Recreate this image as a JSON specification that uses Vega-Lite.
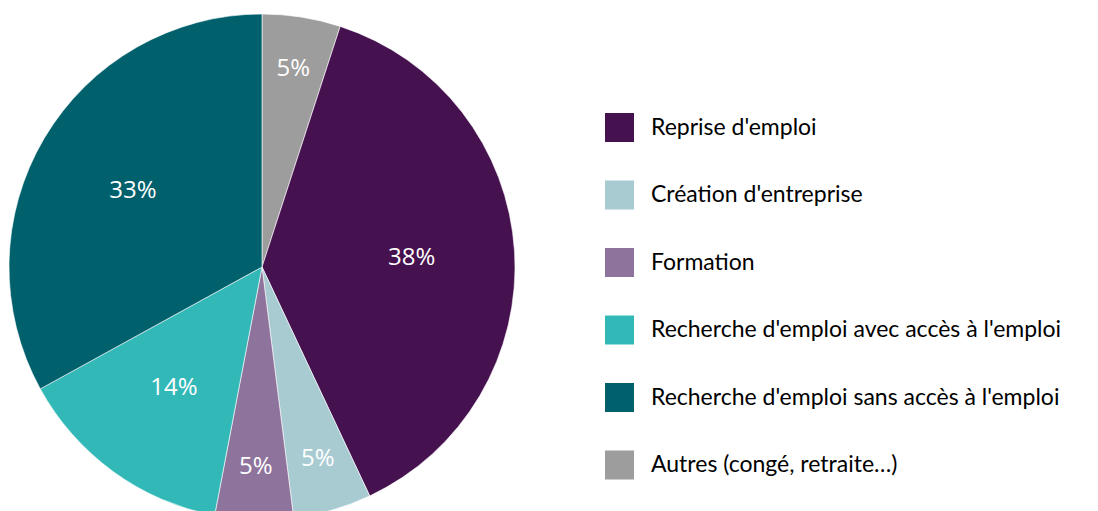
{
  "$schema": "https://vega.github.io/schema/vega-lite/v6.json",
  "autosize": "none",
  "padding": {"left": 0, "top": 0, "right": 574, "bottom": 0},
  "width": 524,
  "height": 534,
  "background": "white",
  "view": {"stroke": null},
  "data": {
    "values": [
      {"categorie": "Autres (congé, retraite…)", "ordre": 1, "part": 0.05},
      {"categorie": "Reprise d'emploi", "ordre": 2, "part": 0.38},
      {"categorie": "Création d'entreprise", "ordre": 3, "part": 0.05},
      {"categorie": "Formation", "ordre": 4, "part": 0.05},
      {"categorie": "Recherche d'emploi avec accès à l'emploi", "ordre": 5, "part": 0.14},
      {"categorie": "Recherche d'emploi sans accès à l'emploi", "ordre": 6, "part": 0.33}
    ]
  },
  "encoding": {
    "theta": {"field": "part", "type": "quantitative", "stack": true},
    "order": {"field": "ordre", "type": "quantitative"}
  },
  "layer": [
    {
      "mark": {"type": "arc", "outerRadius": 253, "stroke": "white", "strokeWidth": 0.6},
      "encoding": {
        "color": {
          "field": "categorie",
          "type": "nominal",
          "scale": {
            "domain": ["Reprise d'emploi", "Création d'entreprise", "Formation", "Recherche d'emploi avec accès à l'emploi", "Recherche d'emploi sans accès à l'emploi", "Autres (congé, retraite…)"],
            "range": ["#46114f", "#a8cbd2", "#8e739c", "#33b8b8", "#00606b", "#9d9d9d"]
          },
          "legend": {
            "title": null,
            "orient": "none",
            "legendX": 605,
            "legendY": 113,
            "symbolType": "square",
            "symbolSize": 841,
            "symbolStrokeWidth": 0,
            "symbolOpacity": 1,
            "labelFont": "Lato",
            "labelFontSize": 23,
            "labelColor": "#000000",
            "labelOffset": 17,
            "labelLimit": 600,
            "rowPadding": 38.5
          }
        }
      }
    },
    {
      "mark": {"type": "text", "radius": 150, "font": "Open Sans", "fontSize": 24, "color": "white"},
      "encoding": {
        "text": {"condition": {"test": "datum.part >= 0.1", "field": "part", "type": "quantitative", "format": ".0%"}, "value": ""},
        "detail": {"field": "categorie"}
      }
    },
    {
      "mark": {"type": "text", "radius": 200, "font": "Open Sans", "fontSize": 24, "color": "white"},
      "encoding": {
        "text": {"condition": {"test": "datum.part < 0.1", "field": "part", "type": "quantitative", "format": ".0%"}, "value": ""},
        "detail": {"field": "categorie"}
      }
    }
  ]
}
